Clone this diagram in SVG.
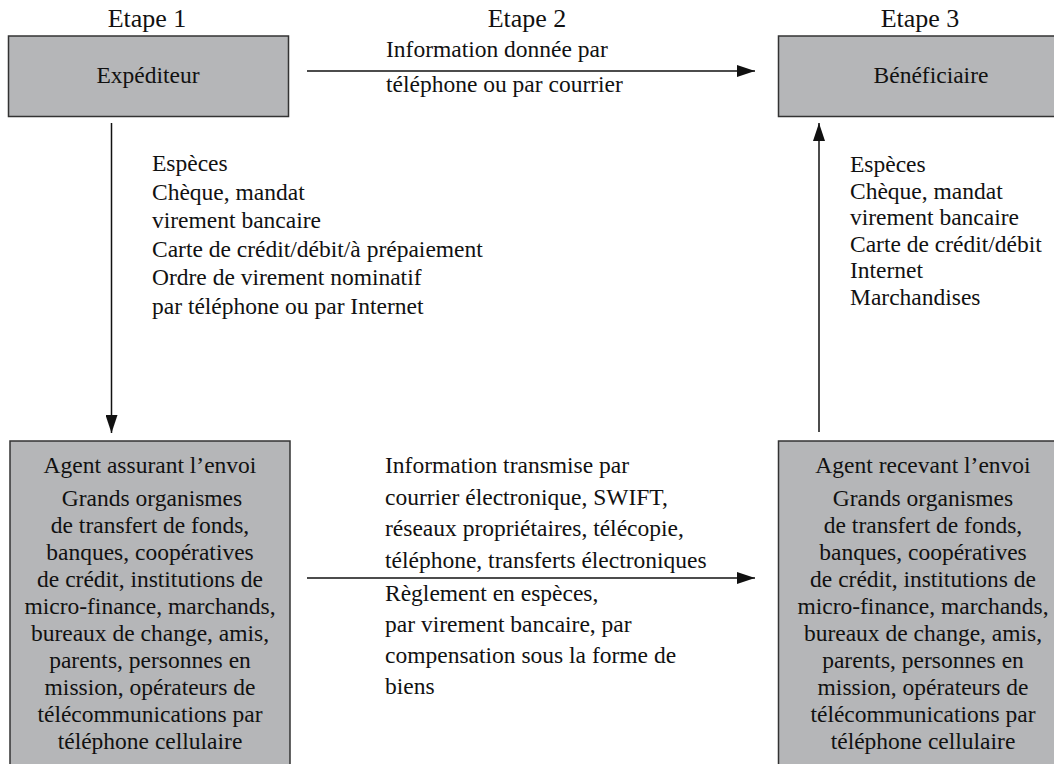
<svg xmlns="http://www.w3.org/2000/svg" width="1054" height="764" viewBox="0 0 1054 764" font-family="'Liberation Serif', 'Times New Roman', Tinos, serif">
<defs>
<style>
text{font-family:'Liberation Serif','Times New Roman',Tinos,serif;font-size:23.5px;fill:#111}
.h{font-size:26px}
.c{text-anchor:middle}
.box{fill:#b5b6b8;stroke:#333;stroke-width:1.5}
.con{stroke:#111;stroke-width:1.5;fill:none}
</style>
<marker id="ah" markerUnits="userSpaceOnUse" markerWidth="18" markerHeight="12" refX="18" refY="6" orient="auto"><path d="M0,0 L18,6 L0,12 z" fill="#111"/></marker>
</defs>
<rect width="1054" height="764" fill="#fff"/>
<g id="headers">
<text class="h c" x="147" y="27">Etape 1</text>
<text class="h c" x="527" y="27">Etape 2</text>
<text class="h c" x="920" y="27">Etape 3</text>
</g>
<g id="expediteur">
<rect class="box" x="8.5" y="36" width="280" height="80.5"/>
<text class="c" x="148" y="83">Expéditeur</text>
</g>
<g id="beneficiaire">
<rect class="box" x="778.5" y="36" width="300" height="80.5"/>
<text class="c" x="931" y="83">Bénéficiaire</text>
</g>
<g id="agent-envoi">
<rect class="box" x="10" y="441" width="280" height="340"/>
<text class="c" x="150" y="473">Agent assurant l’envoi</text>
<text class="c" x="152" y="506">Grands organismes</text>
<text class="c" x="150" y="533">de transfert de fonds,</text>
<text class="c" x="150" y="560">banques, coopératives</text>
<text class="c" x="150" y="587">de crédit, institutions de</text>
<text class="c" x="150" y="614">micro-finance, marchands,</text>
<text class="c" x="150" y="641">bureaux de change, amis,</text>
<text class="c" x="150" y="668">parents, personnes en</text>
<text class="c" x="150" y="695">mission, opérateurs de</text>
<text class="c" x="150" y="722">télécommunications par</text>
<text class="c" x="150" y="749">téléphone cellulaire</text>
</g>
<g id="agent-reception">
<rect class="box" x="778.5" y="441" width="300" height="340"/>
<text class="c" x="923" y="473">Agent recevant l’envoi</text>
<text class="c" x="923" y="506">Grands organismes</text>
<text class="c" x="923" y="533">de transfert de fonds,</text>
<text class="c" x="923" y="560">banques, coopératives</text>
<text class="c" x="923" y="587">de crédit, institutions de</text>
<text class="c" x="923" y="614">micro-finance, marchands,</text>
<text class="c" x="923" y="641">bureaux de change, amis,</text>
<text class="c" x="923" y="668">parents, personnes en</text>
<text class="c" x="923" y="695">mission, opérateurs de</text>
<text class="c" x="923" y="722">télécommunications par</text>
<text class="c" x="923" y="749">téléphone cellulaire</text>
</g>
<g id="connectors">
<line class="con" x1="307" y1="71" x2="755" y2="71" marker-end="url(#ah)"/>
<line class="con" x1="111.5" y1="123" x2="111.5" y2="433" marker-end="url(#ah)"/>
<line class="con" x1="819" y1="432" x2="819" y2="123" marker-end="url(#ah)"/>
<line class="con" x1="307" y1="578" x2="755" y2="578" marker-end="url(#ah)"/>
</g>
<g id="labels">
<text x="386" y="57">Information donnée par</text>
<text x="386" y="92">téléphone ou par courrier</text>
<text x="152" y="171">Espèces</text>
<text x="152" y="199.5">Chèque, mandat</text>
<text x="152" y="228">virement bancaire</text>
<text x="152" y="256.5">Carte de crédit/débit/à prépaiement</text>
<text x="152" y="285">Ordre de virement nominatif</text>
<text x="152" y="313.5">par téléphone ou par Internet</text>
<text x="850" y="172">Espèces</text>
<text x="850" y="198.5">Chèque, mandat</text>
<text x="850" y="225">virement bancaire</text>
<text x="850" y="251.5">Carte de crédit/débit</text>
<text x="850" y="278">Internet</text>
<text x="850" y="304.5">Marchandises</text>
<text x="385" y="473">Information transmise par</text>
<text x="385" y="504.5">courrier électronique, SWIFT,</text>
<text x="385" y="536">réseaux propriétaires, télécopie,</text>
<text x="385" y="567.5">téléphone, transferts électroniques</text>
<text x="385" y="601">Règlement en espèces,</text>
<text x="385" y="632">par virement bancaire, par</text>
<text x="385" y="663">compensation sous la forme de</text>
<text x="385" y="694">biens</text>
</g>
</svg>
